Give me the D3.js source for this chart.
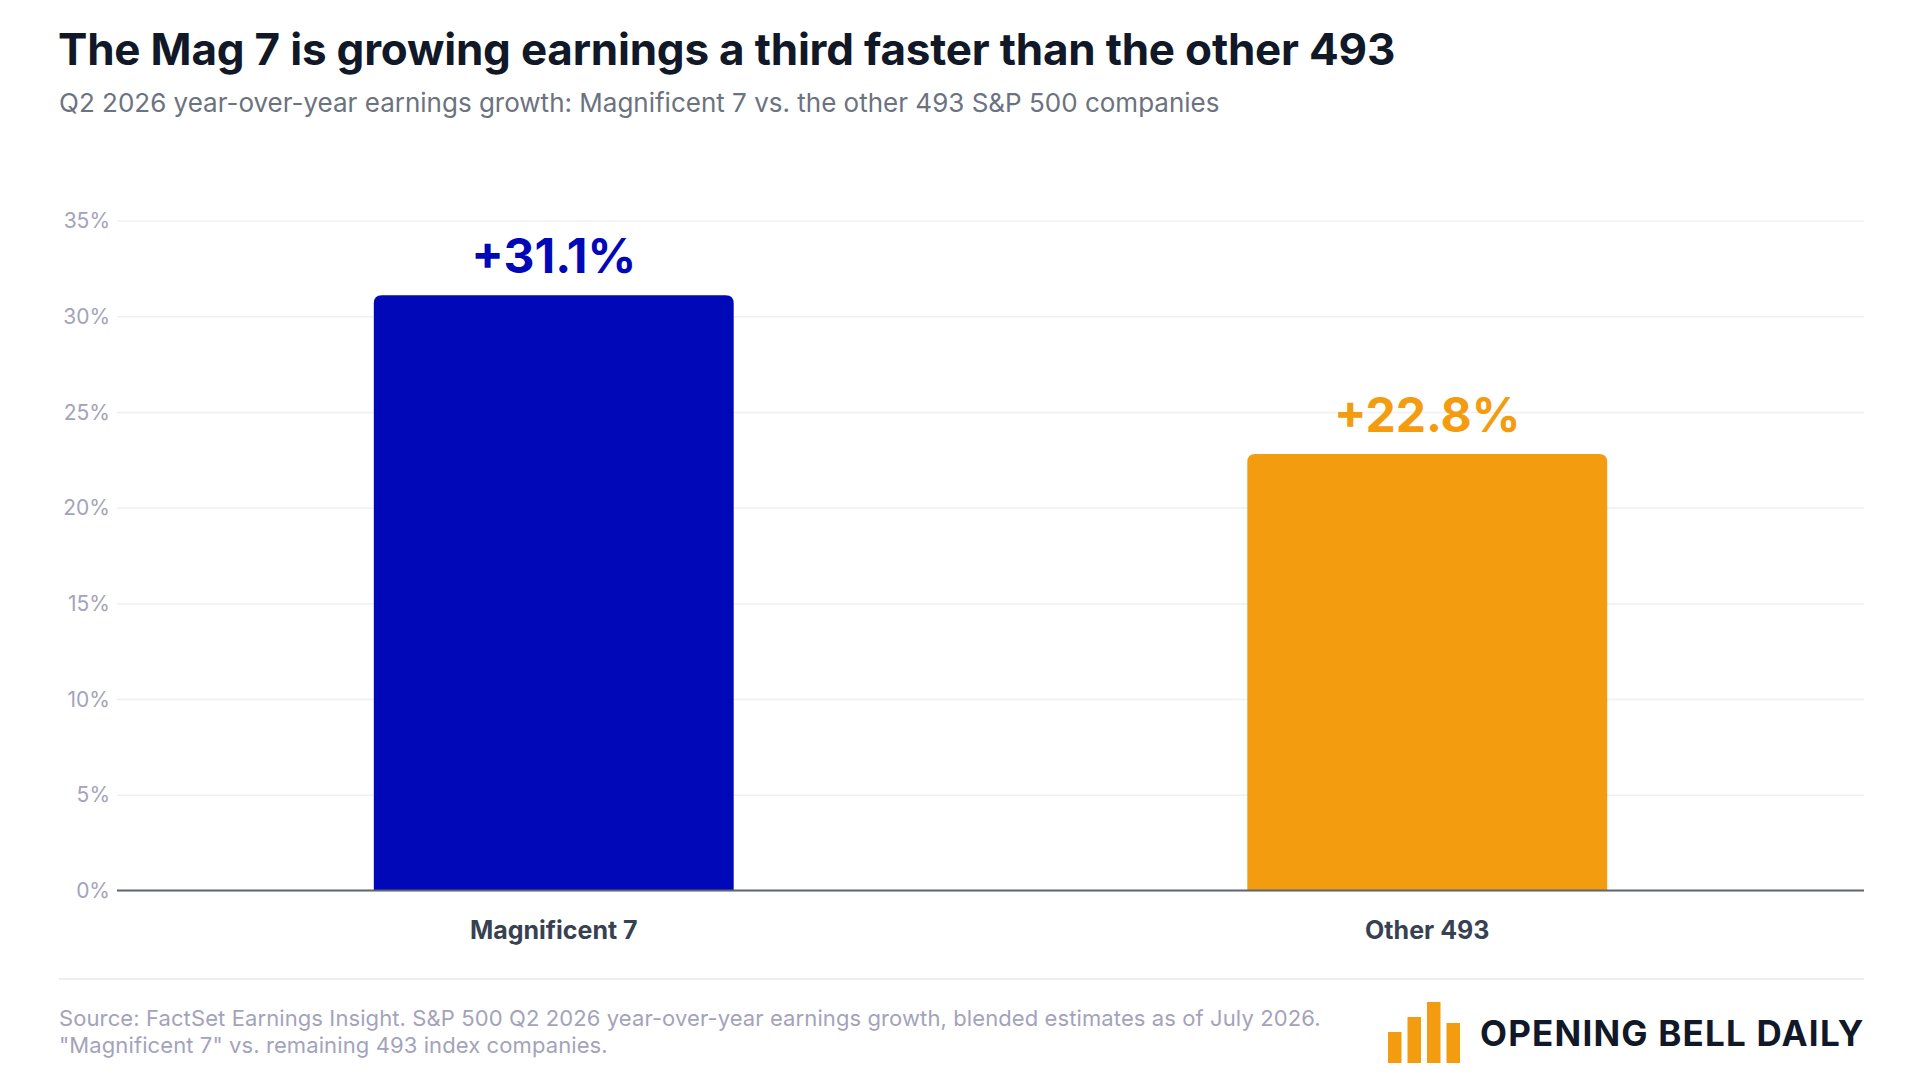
<!DOCTYPE html>
<html><head><meta charset="utf-8">
<script src="https://cdn.jsdelivr.net/npm/d3@7"></script>
<style>
body{margin:0;background:#fff;}
svg{display:block;font-family:Inter,"Noto Sans",sans-serif;}
</style>
</head><body>
<svg id="chart" width="1920" height="1085"></svg>
<script>
const categories = ["Magnificent 7", "Other 493"];
const growthValues = [31.1, 22.8];
const valueLabels = ["+31.1%", "+22.8%"];
const barColors = ["#0008b8", "#f39c0f"];
const yTickValues = [0, 5, 10, 15, 20, 25, 30, 35];
const yTickLabels = ["0%", "5%", "10%", "15%", "20%", "25%", "30%", "35%"];
const titleText = "The Mag 7 is growing earnings a third faster than the other 493";
const subtitleText = "Q2 2026 year-over-year earnings growth: Magnificent 7 vs. the other 493 S&P 500 companies";
const sourceLines = [
  "Source: FactSet Earnings Insight. S&P 500 Q2 2026 year-over-year earnings growth, blended estimates as of July 2026.",
  "\"Magnificent 7\" vs. remaining 493 index companies."
];
const brandText = "OPENING BELL DAILY";
const logoBarHeights = [31, 46, 61, 40];

const svg = d3.select("#chart");
const plotL = 117, plotR = 1864, plotT = 220.5, plotB = 890.5;

svg.append("text").attr("x", 58).attr("y", 65)
  .attr("font-size", 44).attr("font-weight", 700).attr("fill", "#111827")
  .attr("letter-spacing", "-0.2").text(titleText);
svg.append("text").attr("x", 59).attr("y", 112)
  .attr("font-size", 26).attr("fill", "#6b7280").text(subtitleText);

const x = d3.scaleBand().domain(categories).range([plotL, plotR])
  .paddingInner(0.588).paddingOuter(0.294);
const y = d3.scaleLinear().domain([0, 35]).range([plotB, plotT]);

// gridlines + y labels
const yAxis = d3.axisLeft(y).tickValues(yTickValues)
  .tickFormat((d, i) => yTickLabels[i])
  .tickSize(-(plotR - plotL)).tickPadding(7);
const gy = svg.append("g").attr("transform", `translate(${plotL},0)`).call(yAxis);
gy.select(".domain").remove();
gy.selectAll(".tick line").attr("stroke", "#f0f0f2").attr("stroke-width", 1.5);
gy.selectAll(".tick text").attr("font-size", 21).attr("fill", "#a3a3bb")
  .attr("font-family", "Inter, sans-serif").attr("dy", "0.34em");

const data = categories.map((c, i) => ({c, v: growthValues[i], label: valueLabels[i], color: barColors[i]}));
const r = 8;
function barPath(d) {
  const x0 = x(d.c), x1 = x0 + x.bandwidth(), y0 = y(d.v), yb = y(0);
  return `M${x0},${yb}V${y0 + r}Q${x0},${y0} ${x0 + r},${y0}H${x1 - r}Q${x1},${y0} ${x1},${y0 + r}V${yb}Z`;
}
svg.append("g").selectAll("path").data(data).join("path")
  .attr("d", barPath).attr("fill", d => d.color);

svg.append("g").selectAll("text").data(data).join("text")
  .attr("x", d => x(d.c) + x.bandwidth() / 2)
  .attr("y", d => y(d.v) - 22)
  .attr("text-anchor", "middle").attr("font-size", 48).attr("font-weight", 700)
  .attr("fill", d => d.color).text(d => d.label);

// baseline axis
svg.append("line").attr("x1", plotL).attr("x2", plotR)
  .attr("y1", y(0)).attr("y2", y(0)).attr("stroke", "#5f6672").attr("stroke-width", 2);

// x labels
const xAxis = d3.axisBottom(x).tickSize(0).tickPadding(0);
const gx = svg.append("g").attr("transform", `translate(0,${plotB})`).call(xAxis);
gx.select(".domain").remove();
gx.selectAll(".tick text").attr("y", 48).attr("dy", 0).attr("font-size", 25)
  .attr("font-weight", 700).attr("fill", "#374151").attr("font-family", "Inter, sans-serif");

// separator
svg.append("line").attr("x1", 59).attr("x2", plotR).attr("y1", 979).attr("y2", 979)
  .attr("stroke", "#eeeef0").attr("stroke-width", 2);

// source
svg.append("g").selectAll("text").data(sourceLines).join("text")
  .attr("x", 59).attr("y", (d, i) => 1026 + i * 27)
  .attr("font-size", 22).attr("letter-spacing", "0.1").attr("fill", "#a3a3bb").text(d => d);

// brand logo
const logo = svg.append("g");
logo.selectAll("rect").data(logoBarHeights).join("rect")
  .attr("x", (d, i) => 1388 + i * 19.5).attr("width", 13.5)
  .attr("y", d => 1063 - d).attr("height", d => d).attr("fill", "#f39c0f");
logo.append("text").attr("x", 1480).attr("y", 1046)
  .attr("font-size", 35).attr("font-weight", 700).attr("fill", "#111827")
  .attr("letter-spacing", "1.2").text(brandText);
</script>
</body></html>
